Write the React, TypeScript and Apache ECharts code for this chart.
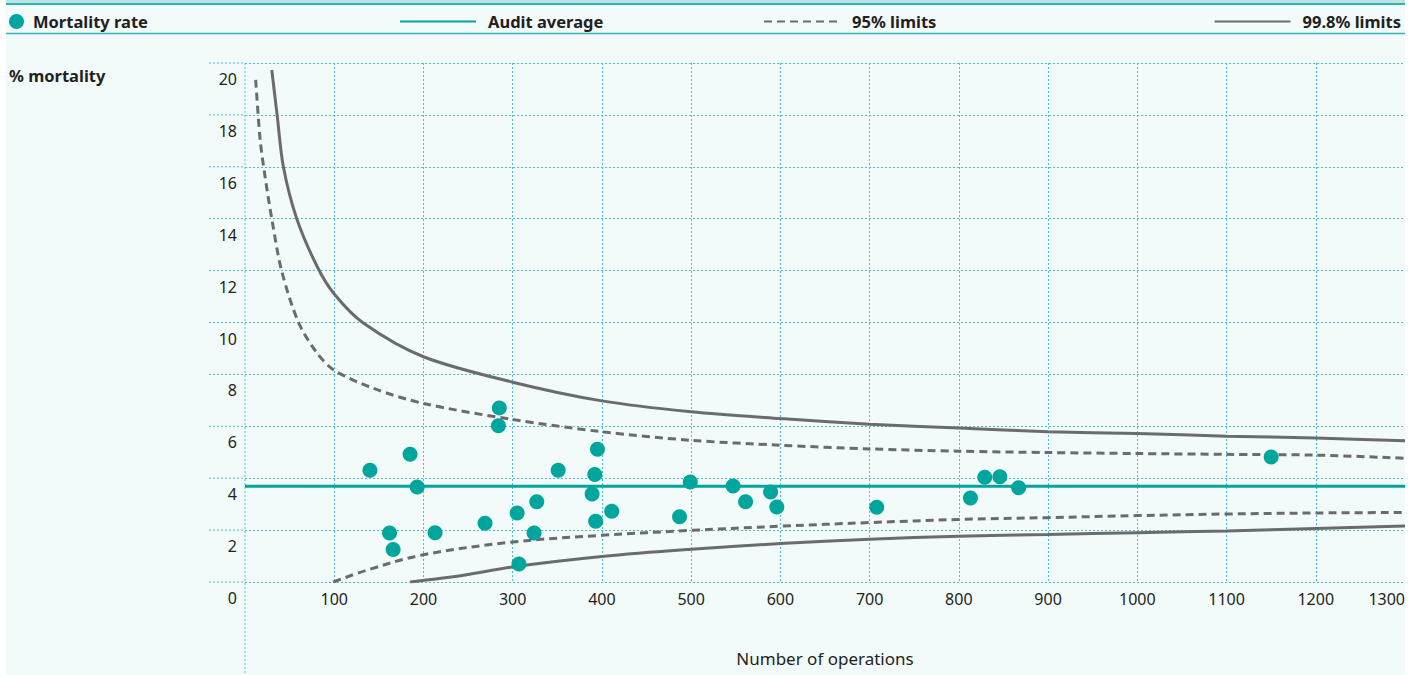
import React, { useEffect, useRef } from "react";
import * as echarts from "echarts";

// ---- Data ----
const operations = [140, 162, 166, 185, 193, 213, 269, 285, 284, 305, 307, 324, 327, 351, 389, 392, 393, 395, 411, 487, 499, 547, 561, 589, 596, 708, 813, 829, 846, 867, 1150];
const mortality = [4.31, 1.89, 1.25, 4.92, 3.66, 1.9, 2.26, 6.71, 6.02, 2.66, 0.69, 1.89, 3.09, 4.31, 3.39, 4.14, 2.34, 5.12, 2.73, 2.51, 3.85, 3.7, 3.09, 3.47, 2.89, 2.88, 3.24, 4.04, 4.06, 3.63, 4.82];

const auditAverage = 3.69;
const averageRange = [0, 1300];

const upper998 = [[30, 19.73], [36, 18.0], [43, 16.0], [58, 14.0], [81, 12.15], [100, 11.1], [133, 9.97], [200, 8.68], [300, 7.7], [400, 6.98], [500, 6.56], [600, 6.3], [700, 6.08], [800, 5.93], [900, 5.79], [1000, 5.72], [1100, 5.62], [1200, 5.55], [1300, 5.44]];
const upper95 = [[12, 19.35], [17, 17.03], [22.5, 15.62], [30, 14.0], [41, 12.0], [60, 10.0], [81, 8.81], [100, 8.16], [144, 7.46], [200, 6.88], [300, 6.26], [400, 5.79], [500, 5.46], [600, 5.27], [700, 5.13], [800, 5.04], [900, 4.99], [1000, 4.95], [1100, 4.92], [1200, 4.89], [1300, 4.77]];
const lower95 = [[99, 0], [136, 0.45], [200, 1.05], [300, 1.54], [400, 1.8], [500, 1.99], [600, 2.15], [700, 2.29], [800, 2.41], [900, 2.48], [1000, 2.56], [1100, 2.62], [1200, 2.66], [1300, 2.68]];
const lower998 = [[185, 0], [245, 0.26], [300, 0.58], [400, 0.98], [500, 1.26], [600, 1.48], [700, 1.65], [800, 1.76], [900, 1.83], [1000, 1.9], [1100, 1.97], [1200, 2.06], [1300, 2.16]];

const yTicks = [0, 2, 4, 6, 8, 10, 12, 14, 16, 18, 20];

const TEAL = "#00a59e";
const GREY = "#6b6b6d";
const GRID = "#48c3c8";
const TXT = "#231f20";
const FONT = "'Noto Sans', 'Open Sans', sans-serif";
const DOT: number[] = [2, 2];

export default function App() {
  const ref = useRef<HTMLDivElement>(null);

  useEffect(() => {
    if (!ref.current) return;
    const chart = echarts.init(ref.current, null, { renderer: "svg" });
    const legendText = { fontSize: 16.5, fontWeight: "bold", color: TXT, fontFamily: FONT, padding: [0, 0, 0, 7] };
    const hiddenSymbol = { opacity: 0, borderWidth: 0 };
    const option: any = {
      animation: false,
      grid: { left: 245, right: 17, top: 63, bottom: 93 },
      legend: [
        { left: 4, top: 8, data: ["Mortality rate"], icon: "circle", itemWidth: 15, itemHeight: 15, selectedMode: false, textStyle: { ...legendText, padding: [0, 0, 0, 4] } },
        { left: 394, top: 8, data: ["Audit average"], itemWidth: 76, itemHeight: 14, selectedMode: false, textStyle: legendText, itemStyle: hiddenSymbol },
        { left: 758, top: 8, data: ["95% limits"], itemWidth: 76, itemHeight: 14, selectedMode: false, textStyle: legendText, itemStyle: hiddenSymbol },
        { right: 16, top: 8, data: ["99.8% limits"], itemWidth: 76, itemHeight: 14, selectedMode: false, textStyle: legendText, itemStyle: hiddenSymbol },
      ],
      xAxis: {
        type: "value",
        min: 0,
        max: 1300,
        interval: 100,
        name: "Number of operations",
        nameLocation: "middle",
        nameGap: 68,
        nameTextStyle: { fontSize: 17, color: TXT, fontFamily: FONT },
        axisLine: { show: false },
        axisTick: { show: false },
        axisLabel: { fontSize: 16, color: TXT, fontFamily: FONT, margin: 9, showMinLabel: false, alignMaxLabel: "right", formatter: (v: number) => String(v) },
        splitLine: { show: true, showMinLine: false, showMaxLine: false, lineStyle: { color: GRID, type: DOT, width: 1 } },
      },
      yAxis: {
        type: "value",
        min: 0,
        max: 20,
        interval: 2,
        axisLine: { show: false },
        axisTick: { show: false },
        axisLabel: { fontSize: 16, color: TXT, fontFamily: FONT, margin: 8, verticalAlign: "top", padding: [8, 0, 0, 0] },
        splitLine: { show: true, lineStyle: { color: GRID, type: DOT, width: 1 } },
      },
      series: [
        {
          name: "99.8% limits",
          type: "line",
          data: upper998,
          symbol: "none",
          smooth: 0.3,
          lineStyle: { color: GREY, width: 3 },
          itemStyle: { color: GREY },
          z: 2,
        },
        {
          name: "99.8% limits",
          type: "line",
          data: lower998,
          symbol: "none",
          smooth: 0.35,
          lineStyle: { color: GREY, width: 3 },
          itemStyle: { color: GREY },
          z: 2,
        },
        {
          name: "95% limits",
          type: "line",
          data: upper95,
          symbol: "none",
          smooth: 0.3,
          lineStyle: { color: GREY, width: 3, type: [8, 5] },
          itemStyle: { color: GREY },
          z: 2,
        },
        {
          name: "95% limits",
          type: "line",
          data: lower95,
          symbol: "none",
          smooth: 0.35,
          lineStyle: { color: GREY, width: 3, type: [8, 5] },
          itemStyle: { color: GREY },
          z: 2,
        },
        {
          name: "Audit average",
          type: "line",
          data: averageRange.map((x) => [x, auditAverage]),
          symbol: "none",
          lineStyle: { color: TEAL, width: 3 },
          itemStyle: { color: TEAL },
          z: 3,
        },
        {
          name: "Mortality rate",
          type: "scatter",
          data: operations.map((x, i) => [x, mortality[i]]),
          symbolSize: 15,
          itemStyle: { color: TEAL, opacity: 1 },
          z: 5,
        },
      ],
    };
    chart.setOption(option);

    const x0 = chart.convertToPixel({ xAxisIndex: 0 }, 0) as number;
    const yTop = chart.convertToPixel({ yAxisIndex: 0 }, 20) as number;
    const ext: any[] = yTicks.map((v) => {
      const y = chart.convertToPixel({ yAxisIndex: 0 }, v) as number;
      return {
        type: "line",
        shape: { x1: x0 - 36, y1: y, x2: x0, y2: y },
        style: { stroke: GRID, lineWidth: 1, lineDash: DOT },
        z: -1,
      };
    });
    ext.push({
      type: "line",
      shape: { x1: x0, y1: yTop, x2: x0, y2: 675 },
      style: { stroke: GRID, lineWidth: 1, lineDash: DOT },
      z: -1,
    });

    chart.setOption({
      graphic: [
        { type: "rect", shape: { x: 6, y: 0, width: 1399, height: 675 }, style: { fill: "#f2fafa" }, z: -10 },
        { type: "rect", shape: { x: 6, y: 0, width: 1399, height: 3 }, style: { fill: "#bfe3e3" }, z: -9 },
        { type: "line", shape: { x1: 6, y1: 4, x2: 1405, y2: 4 }, style: { stroke: "#2db6b8", lineWidth: 2 }, z: -8 },
        { type: "line", shape: { x1: 6, y1: 33.5, x2: 1405, y2: 33.5 }, style: { stroke: "#2db6b8", lineWidth: 1.5 }, z: -8 },
        {
          type: "text",
          left: 9,
          top: 67,
          style: { text: "% mortality", fontSize: 16.5, fontWeight: "bold", fill: TXT, fontFamily: FONT },
        },
        ...ext,
      ],
    });

    return () => chart.dispose();
  }, []);

  return <div ref={ref} style={{ position: "absolute", left: 0, top: 0, width: 1422, height: 675 }} />;
}
